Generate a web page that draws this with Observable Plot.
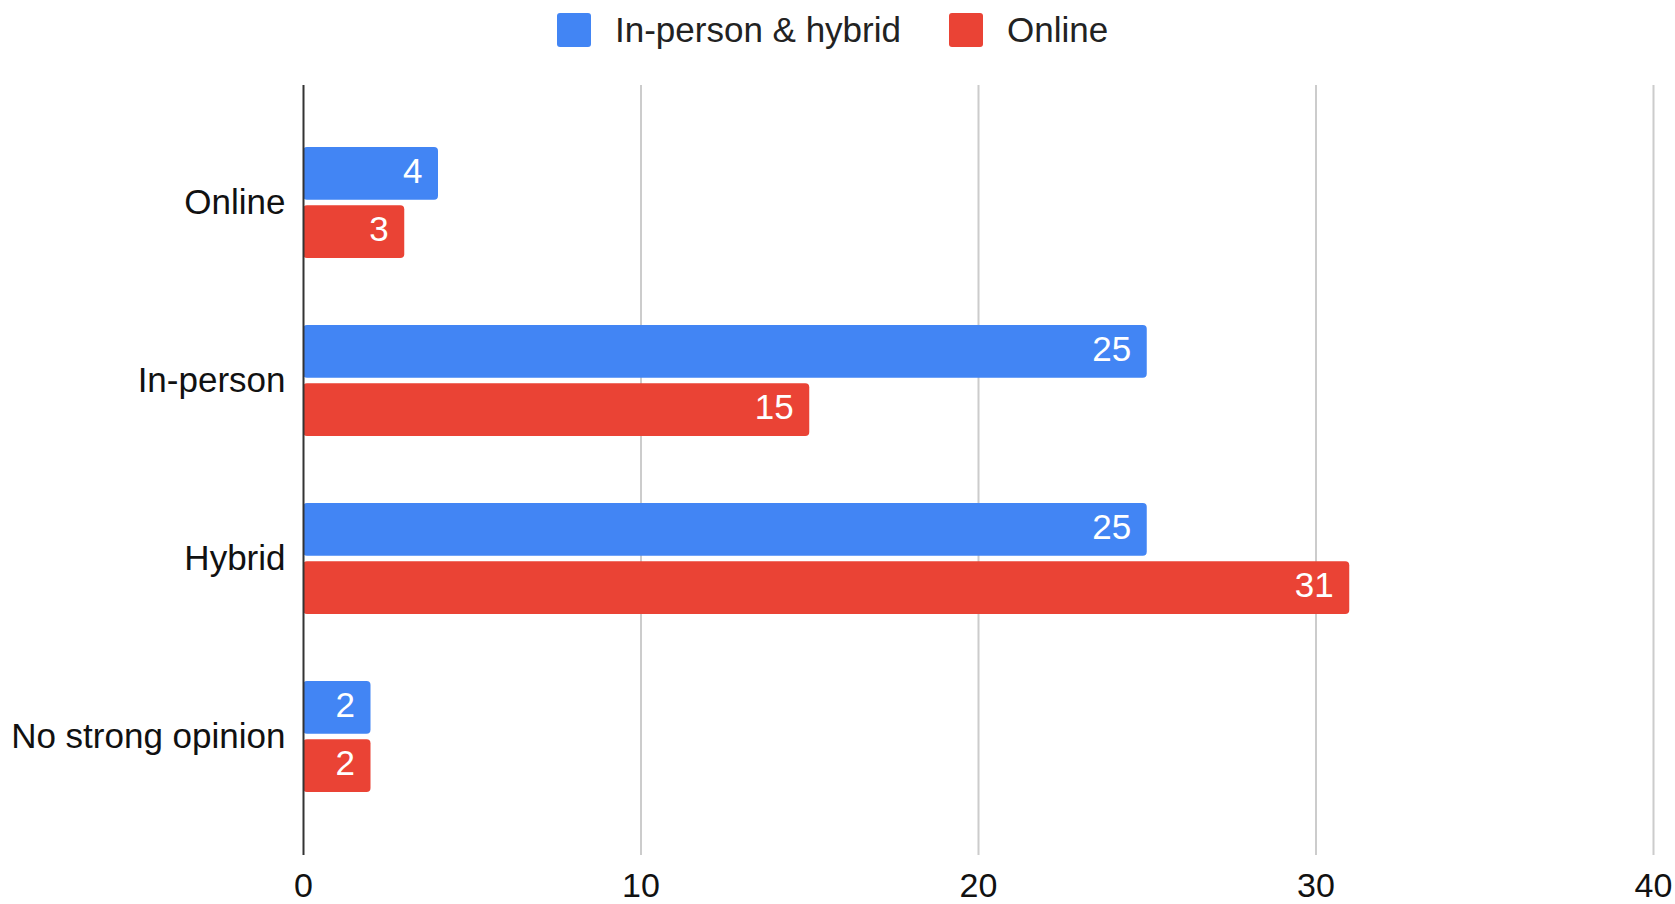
<!DOCTYPE html>
<html>
<head>
<meta charset="utf-8">
<script src="https://cdn.jsdelivr.net/npm/d3@7"></script>
<script src="https://cdn.jsdelivr.net/npm/@observablehq/plot@0.6"></script>
<style>
  html, body { margin: 0; padding: 0; background: #fff; }
  body { width: 1675px; height: 904px; position: relative; overflow: hidden;
         font-family: "Liberation Sans", Arial, Helvetica, sans-serif; }
  #legend { position: absolute; left: 557px; top: 12px; height: 36px; display: flex; align-items: center;
            font-size: 35px; color: #222; z-index: 2; }
  #legend .sw { width: 34px; height: 34px; border-radius: 3px; margin-right: 24px; }
  #legend .item { display: flex; align-items: center; margin-right: 48px; }
  #chart { position: absolute; left: 0; top: 0; }
</style>
</head>
<body>
<div id="legend"></div>
<div id="chart"></div>
<script>
const categories = ["Online", "In-person", "Hybrid", "No strong opinion"];
const seriesNames = ["In-person & hybrid", "Online"];
const inPersonHybridValues = [4, 25, 25, 2];
const onlineValues = [3, 15, 31, 2];
const xTicks = [0, 10, 20, 30, 40];
const colors = ["#4285F4", "#EA4335"];

const rows = [];
categories.forEach((c, i) => {
  rows.push({category: c, series: seriesNames[0], value: inPersonHybridValues[i]});
  rows.push({category: c, series: seriesNames[1], value: onlineValues[i]});
});
const first = rows.filter(d => d.series === seriesNames[0]);
const second = rows.filter(d => d.series === seriesNames[1]);

const half = 58.3;

const plot = Plot.plot({
  width: 1675,
  height: 904,
  marginLeft: 303,
  marginRight: 22,
  marginTop: 85,
  marginBottom: 49,
  style: {fontFamily: "'Liberation Sans', Arial, Helvetica, sans-serif", fontSize: "34px", color: "#111", background: "#fff"},
  x: {domain: [0, 40], ticks: xTicks, tickSize: 0, tickPadding: 17, label: null},
  y: {domain: categories, paddingInner: 0.376, paddingOuter: 0.348, axis: null},
  marks: [
    Plot.gridX(xTicks.slice(1), {stroke: "#cccccc", strokeOpacity: 1, strokeWidth: 2}),
    Plot.barX(first, {x: "value", y: "category", fill: colors[0], insetBottom: half, rx: 4}),
    Plot.barX(second, {x: "value", y: "category", fill: colors[1], insetTop: half, rx: 4}),
    Plot.ruleX([0], {stroke: "#333", strokeWidth: 2}),
    Plot.text(first, {x: "value", y: "category", text: d => String(d.value), dy: -half / 2 - 2, dx: -16,
      textAnchor: "end", fill: "#fff", fontSize: 35}),
    Plot.text(second, {x: "value", y: "category", text: d => String(d.value), dy: half / 2 - 2, dx: -16,
      textAnchor: "end", fill: "#fff", fontSize: 35}),
    Plot.axisY({tickSize: 0, tickPadding: 18, label: null, fontSize: 35, anchor: "left"})
  ]
});
document.getElementById("chart").appendChild(plot);

const legend = document.getElementById("legend");
seriesNames.forEach((s, i) => {
  const item = document.createElement("div");
  item.className = "item";
  const sw = document.createElement("div");
  sw.className = "sw";
  sw.style.background = colors[i];
  const t = document.createElement("span");
  t.textContent = s;
  item.appendChild(sw);
  item.appendChild(t);
  legend.appendChild(item);
});
</script>
</body>
</html>
